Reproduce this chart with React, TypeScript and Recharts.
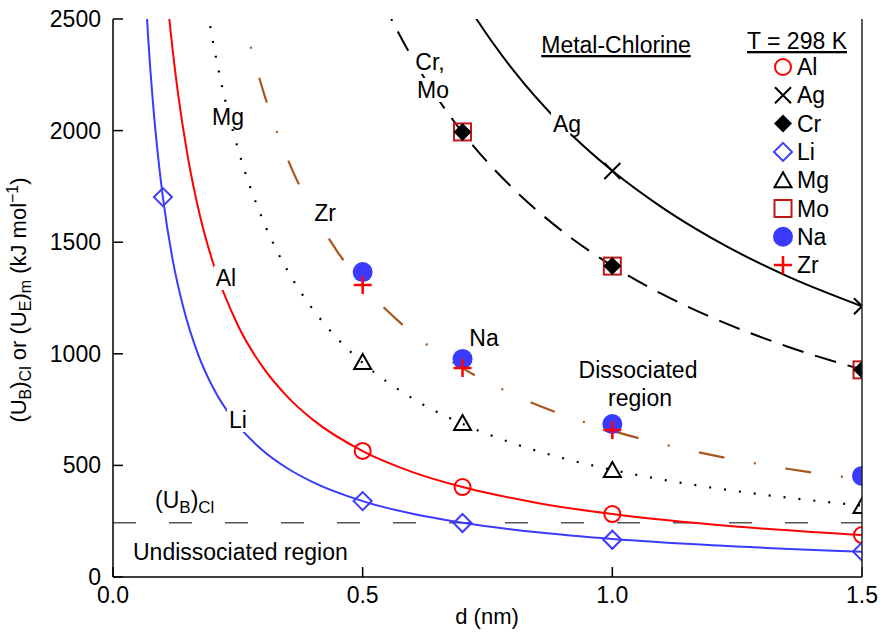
import React from "react";
import { ComposedChart, Line, Scatter, XAxis, YAxis, ReferenceLine } from "recharts";

const xTicks = [0, 0.5, 1.0, 1.5];
const yTicks = [0, 500, 1000, 1500, 2000, 2500];
const clBond = 243; // (U_B)Cl

// curves [d, U]
const liCurve = [[0.06, 2830], [0.07, 2430], [0.08, 2125], [0.09, 1890], [0.1, 1700], [0.12, 1415], [0.14, 1215], [0.17, 1000], [0.2, 850], [0.25, 680], [0.3, 567], [0.35, 486], [0.4, 425], [0.5, 340], [0.6, 283], [0.7, 243], [0.85, 200], [1.0, 170], [1.2, 142], [1.5, 113]];
const alCurve = [[0.105, 2686], [0.11, 2564], [0.12, 2350], [0.13, 2170], [0.15, 1880], [0.175, 1611], [0.2, 1410], [0.25, 1128], [0.3, 940], [0.35, 806], [0.4, 705], [0.5, 564], [0.6, 470], [0.7, 403], [0.85, 332], [1.0, 282], [1.2, 235], [1.5, 188]];
const mgCurve = [[0.18, 2667], [0.2, 2400], [0.22, 2182], [0.25, 1920], [0.3, 1600], [0.35, 1371], [0.4, 1200], [0.45, 1067], [0.5, 960], [0.6, 800], [0.7, 686], [0.8, 600], [0.9, 533], [1.0, 480], [1.2, 400], [1.35, 356], [1.5, 320]];
const zrCurve = [[0.25, 2620], [0.27, 2426], [0.3, 2183], [0.35, 1871], [0.4, 1638], [0.45, 1456], [0.5, 1310], [0.6, 1092], [0.7, 936], [0.8, 819], [0.9, 728], [1.0, 655], [1.2, 546], [1.35, 485], [1.5, 437]];
const crMoCurve = [[0.54, 2581], [0.56, 2489], [0.6, 2323], [0.65, 2145], [0.7, 1991], [0.8, 1743], [0.9, 1549], [1.0, 1394], [1.1, 1267], [1.2, 1162], [1.35, 1033], [1.5, 929]];
const agCurve = [[0.7, 2600], [0.73, 2493], [0.8, 2275], [0.9, 2022], [1.0, 1820], [1.1, 1655], [1.2, 1517], [1.35, 1348], [1.5, 1213]];

// plotted points [d, U]
const alPts = [[0.5, 565], [0.7, 403], [1.0, 282], [1.5, 188]];
const agPts = [[1.0, 1819], [1.5, 1213]];
const crPts = [[0.7, 1994], [1.0, 1393], [1.5, 928]];
const liPts = [[0.1, 1702], [0.5, 340], [0.7, 242], [1.0, 167], [1.5, 114]];
const mgPts = [[0.5, 963], [0.7, 690], [1.0, 479], [1.5, 318]];
const moPts = [[0.7, 1994], [1.0, 1393], [1.5, 928]];
const naPts = [[0.5, 1366], [0.7, 977], [1.0, 685], [1.5, 453]];
const zrPts = [[0.5, 1308], [0.7, 936], [1.0, 659]];

const legendNames = ["Al", "Ag", "Cr", "Li", "Mg", "Mo", "Na", "Zr"];

const rows = (a: number[][]) => a.map(([d, u]) => ({ d, u }));

const FONT = "'Liberation Sans', Arial, sans-serif";
const RED = "#ff0000";
const BLUE = "#3b3bff";
const MO = "#c01818";
const BROWN = "#a8561e";
// plot box (chart margins + axis sizes)
const PL = 113, PT = 19, PW = 749, PH = 558;

function mark(kind: string, cx: number, cy: number) {
  switch (kind) {
    case "Al":
      return <circle cx={cx} cy={cy} r={8} fill="none" stroke={RED} strokeWidth={2} />;
    case "Ag":
      return <path d={`M${cx - 8},${cy - 8}L${cx + 8},${cy + 8}M${cx - 8},${cy + 8}L${cx + 8},${cy - 8}`} stroke="#000" strokeWidth={2} />;
    case "Cr":
      return <path d={`M${cx},${cy - 9}L${cx + 9},${cy}L${cx},${cy + 9}L${cx - 9},${cy}Z`} fill="#000" />;
    case "Li":
      return <path d={`M${cx},${cy - 9}L${cx + 9},${cy}L${cx},${cy + 9}L${cx - 9},${cy}Z`} fill="none" stroke={BLUE} strokeWidth={2} />;
    case "Mg":
      return <path d={`M${cx},${cy - 8}L${cx + 8.5},${cy + 7}L${cx - 8.5},${cy + 7}Z`} fill="none" stroke="#000" strokeWidth={2} />;
    case "Mo":
      return <rect x={cx - 8.5} y={cy - 8.5} width={17} height={17} fill="none" stroke={MO} strokeWidth={2} />;
    case "Na":
      return <circle cx={cx} cy={cy} r={10} fill={BLUE} />;
    default:
      return <path d={`M${cx - 9},${cy}L${cx + 9},${cy}M${cx},${cy - 9}L${cx},${cy + 9}`} stroke={RED} strokeWidth={2.5} />;
  }
}

const BottomTick = ({ x, y, payload }: any) => (
  <g>
    <line x1={x} x2={x} y1={y} y2={y - 10} stroke="#000" strokeWidth={1.5} />
    <text x={x} y={y + 26} textAnchor="middle" fontSize={23} fontFamily={FONT} fill="#000">
      {Number(payload.value).toFixed(1)}
    </text>
  </g>
);
const TopTick = ({ x, y }: any) => <line x1={x} x2={x} y1={y} y2={y + 10} stroke="#000" strokeWidth={1.5} />;
const LeftTick = ({ x, y, payload }: any) => (
  <g>
    <line x1={x} x2={x + 10} y1={y} y2={y} stroke="#000" strokeWidth={1.5} />
    <text x={x - 12} y={y} dy="0.35em" textAnchor="end" fontSize={23} fontFamily={FONT} fill="#000">
      {payload.value}
    </text>
  </g>
);
const RightTick = ({ x, y }: any) => <line x1={x} x2={x - 10} y1={y} y2={y} stroke="#000" strokeWidth={1.5} />;

function Tag({ x, y, w, children }: { x: number; y: number; w: number; children: React.ReactNode }) {
  return (
    <g>
      <rect x={x - w / 2} y={y - 12} width={w} height={24} fill="#fff" />
      <text x={x} y={y} dy="0.35em" textAnchor="middle">{children}</text>
    </g>
  );
}

export default function App() {
  const series = [
    { key: "Mo", pts: moPts },
    { key: "Cr", pts: crPts },
    { key: "Ag", pts: agPts },
    { key: "Mg", pts: mgPts },
    { key: "Na", pts: naPts },
    { key: "Zr", pts: zrPts },
    { key: "Al", pts: alPts },
    { key: "Li", pts: liPts },
  ];
  return (
    <div style={{ position: "absolute", left: 0, top: 0, width: 880, height: 634, background: "#fff" }}>
      <ComposedChart width={880} height={634} margin={{ top: PT, right: 880 - PL - PW, bottom: 0, left: 0 }}>
        <XAxis dataKey="d" type="number" domain={[0, 1.5]} ticks={xTicks} interval={0} allowDataOverflow
          height={634 - PT - PH} tickSize={0} tickMargin={0} tick={<BottomTick />} axisLine={{ stroke: "#000", strokeWidth: 1.5 }} />
        <XAxis xAxisId="top" orientation="top" dataKey="d" type="number" domain={[0, 1.5]} ticks={xTicks} interval={0}
          height={0} tickSize={0} tickMargin={0} tick={<TopTick />} axisLine={{ stroke: "#666", strokeWidth: 1.5 }} />
        <YAxis dataKey="u" type="number" domain={[0, 2500]} ticks={yTicks} interval={0} allowDataOverflow
          width={PL} tickSize={0} tickMargin={0} tick={<LeftTick />} axisLine={{ stroke: "#000", strokeWidth: 1.5 }} />
        <YAxis yAxisId="right" orientation="right" type="number" domain={[0, 2500]} ticks={yTicks} interval={0}
          width={0} tickSize={0} tickMargin={0} tick={<RightTick />} axisLine={{ stroke: "#222", strokeWidth: 1.5 }} />

        <ReferenceLine y={clBond} stroke="#555" strokeWidth={1.5} strokeDasharray="23 33" />

        <Line data={rows(liCurve)} dataKey="u" type="monotone" stroke={BLUE} strokeWidth={2} dot={false} isAnimationActive={false} />
        <Line data={rows(alCurve)} dataKey="u" type="monotone" stroke={RED} strokeWidth={2} dot={false} isAnimationActive={false} />
        <Line data={rows(mgCurve)} dataKey="u" type="monotone" stroke="#000" strokeWidth={2.2} strokeDasharray="2 13" dot={false} isAnimationActive={false} />
        <Line data={rows(zrCurve)} dataKey="u" type="monotone" stroke={BROWN} strokeWidth={2.2} strokeDasharray="26 30 2 30" dot={false} isAnimationActive={false} />
        <Line data={rows(crMoCurve)} dataKey="u" type="monotone" stroke="#000" strokeWidth={2} strokeDasharray="22 12" dot={false} isAnimationActive={false} />
        <Line data={rows(agCurve)} dataKey="u" type="monotone" stroke="#000" strokeWidth={2} dot={false} isAnimationActive={false} />

        {series.map((s) => (
          <Scatter key={s.key} name={s.key} data={rows(s.pts)} dataKey="u" isAnimationActive={false}
            shape={(p: any) => (
              <svg x={PL} y={PT} width={PW} height={PH} overflow="hidden">
                {mark(s.key, p.cx - PL, p.cy - PT)}
              </svg>
            )} />
        ))}
      </ComposedChart>

      <svg width={880} height={634} style={{ position: "absolute", left: 0, top: 0, pointerEvents: "none" }}
        fontFamily={FONT} fontSize={23} fill="#000">
        {/* mask marker halves that fall right of the frame */}
        <rect x={PL + PW + 1} y={0} width={880 - PL - PW - 1} height={PT + PH - 2} fill="#fff" />
        <line x1={PL + PW} x2={PL + PW} y1={PT} y2={PT + PH} stroke="#222" strokeWidth={1.5} />

        <text transform="translate(26,300) rotate(-90)" textAnchor="middle" fontSize={22}>
          (U<tspan dy={5} fontSize={16}>B</tspan><tspan dy={-5}>)</tspan><tspan dy={5} fontSize={16}>Cl</tspan>
          <tspan dy={-5}> or (U</tspan><tspan dy={5} fontSize={16}>E</tspan><tspan dy={-5}>)</tspan>
          <tspan dy={5} fontSize={16}>m</tspan><tspan dy={-5}> (kJ mol</tspan><tspan dy={-8} fontSize={16}>−1</tspan>
          <tspan dy={8}>)</tspan>
        </text>
        <text x={487} y={624} textAnchor="middle" fontSize={22}>d (nm)</text>

        <text x={616} y={53} textAnchor="middle" textDecoration="underline">Metal-Chlorine</text>
        <text x={797} y={49} textAnchor="middle" textDecoration="underline">T = 298 K</text>
        {legendNames.map((n, i) => (
          <g key={n}>
            {mark(n, 783, 67 + i * 28.3)}
            <text x={797} y={67 + i * 28.3} dy="0.35em">{n}</text>
          </g>
        ))}

        <Tag x={430} y={62} w={34}>Cr,</Tag>
        <Tag x={433} y={90} w={36}>Mo</Tag>
        <Tag x={567} y={124} w={32}>Ag</Tag>
        <Tag x={228} y={117} w={36}>Mg</Tag>
        <Tag x={325} y={213} w={28}>Zr</Tag>
        <Tag x={226} y={278} w={24}>Al</Tag>
        <Tag x={484} y={338} w={32}>Na</Tag>
        <Tag x={238} y={420} w={22}>Li</Tag>
        <text x={638} y={370} dy="0.35em" textAnchor="middle">Dissociated</text>
        <text x={640} y={398} dy="0.35em" textAnchor="middle">region</text>
        <text x={155} y={508}>
          (U<tspan dy={5} fontSize={17}>B</tspan><tspan dy={-5}>)</tspan><tspan dy={5} fontSize={17}>Cl</tspan>
        </text>
        <text x={133} y={552} dy="0.35em">Undissociated region</text>
      </svg>
    </div>
  );
}
